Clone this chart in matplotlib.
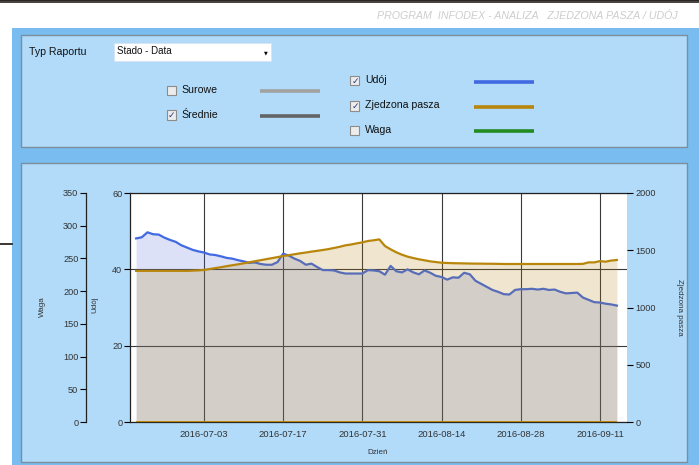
import matplotlib
matplotlib.use('Agg')
import matplotlib.pyplot as plt
from matplotlib.patches import Rectangle
import numpy as np
import pandas as pd

W, H = 699, 465

# daily values from 2016-06-21
start_day = '2016-06-21'
udoj = [48.1, 48.4, 49.7, 49.2, 49.1, 48.3, 47.7, 47.2, 46.3, 45.7,
        45.1, 44.7, 44.4, 43.9, 43.75, 43.4, 43.0, 42.8, 42.4, 42.1,
        41.7, 41.8, 41.4, 41.2, 41.2, 41.9, 44.1, 43.6, 42.8, 42.2,
        41.2, 41.5, 40.6, 39.8, 39.8, 39.7, 39.2, 38.9, 38.9, 38.9,
        38.9, 39.8, 39.7, 39.5, 38.6, 40.9, 39.5, 39.2, 40.0, 39.2,
        38.7, 39.7, 39.1, 38.3, 38.0, 37.3, 37.9, 37.8, 39.1, 38.7,
        37.0, 36.2, 35.4, 34.6, 34.1, 33.5, 33.4, 34.6, 34.8, 34.8,
        34.9, 34.7, 34.9, 34.6, 34.7, 34.1, 33.7, 33.8, 33.9, 32.6,
        32.0, 31.4, 31.3, 31.0, 30.8, 30.5]
pasza = [1320, 1320, 1320, 1320, 1320, 1320, 1320, 1320, 1320, 1320, 1322, 1324,
         1328, 1336, 1344, 1352, 1361, 1369, 1377, 1386, 1395, 1404, 1413, 1422,
         1431, 1440, 1450, 1457, 1465, 1473, 1480, 1488, 1495, 1502, 1510, 1520,
         1530, 1543, 1550, 1560, 1569, 1581, 1587, 1595,
         1537, 1508, 1482, 1461, 1444, 1432, 1421, 1412, 1403, 1397, 1391, 1389,
         1387, 1386, 1385, 1384, 1383, 1383, 1382, 1382, 1381, 1380, 1380, 1380,
         1380, 1380, 1380, 1380, 1380, 1380, 1380, 1380, 1380, 1380, 1380, 1381,
         1394, 1394, 1405, 1400, 1410, 1415]

date_ticks = ['2016-07-03', '2016-07-17', '2016-07-31', '2016-08-14', '2016-08-28', '2016-09-11']
udoj_ticks = [0, 20, 40, 60]
pasza_ticks = [0, 500, 1000, 1500, 2000]
waga_ticks = [0, 50, 100, 150, 200, 250, 300, 350]

UI_FONT = ['Liberation Sans', 'DejaVu Sans']
BLUE = '#4169e1'
GOLD = '#b8860b'


def fx(x):
    return x / W


def fy(y):
    return 1 - y / H


def box(fig, x0, y0, x1, y1, fc, ec='none', lw=0, z=-5):
    r = Rectangle((fx(x0), fy(y1)), (x1 - x0) / W, (y1 - y0) / H, transform=fig.transFigure,
                  facecolor=fc, edgecolor=ec, linewidth=lw, zorder=z)
    fig.patches.append(r)


def label(fig, x, y, s, size=7.6, **kw):
    fig.text(fx(x), fy(y), s, fontsize=size, family=UI_FONT, va='center', color='#111111', **kw)


def checkbox(fig, x, y, checked):
    box(fig, x - 4.5, y - 4.5, x + 4.5, y + 4.5, '#ececec', '#8c8c8c', 0.8, z=1)
    if checked:
        fig.text(fx(x), fy(y), '\u2713', fontsize=6.5, color='#2c3e78', ha='center', va='center',
                 family='DejaVu Sans', zorder=2)


def legend_line(fig, x0, x1, y, color):
    fig.add_artist(plt.Line2D([fx(x0), fx(x1)], [fy(y), fy(y)], transform=fig.transFigure,
                              color=color, lw=2.6, solid_capstyle='butt'))


fig = plt.figure(figsize=(W / 100, H / 100), dpi=100, facecolor='white')

# window background
box(fig, 0, 0, W, 3, '#4a4440')
box(fig, 0, 0, W, 1.5, '#2a2522')
box(fig, 12, 28, W, H, '#79bdf0')
box(fig, 21, 35, 687, 147, '#b1dbf9', '#7d8d9c', 1)
box(fig, 21, 163, 687, 462, '#b1dbf9', '#7d8d9c', 1)
fig.add_artist(plt.Line2D([fx(0), fx(12)], [fy(244), fy(244)], transform=fig.transFigure,
                          color='#2a2522', lw=1.3))

fig.text(fx(678), fy(16), 'PROGRAM  INFODEX - ANALIZA   ZJEDZONA PASZA / UDÓJ', fontsize=7.7,
         family=UI_FONT, style='italic', color='#cdcdcd', ha='right', va='center')

# report type selector
label(fig, 29, 52, 'Typ Raportu')
box(fig, 114, 43, 271, 61, 'white', '#d6e4ef', 0.6, z=1)
label(fig, 117, 51.5, 'Stado - Data', size=7)
fig.text(fx(266), fy(52.5), '\u25bc', fontsize=3.5, ha='center', va='center', color='black',
         family='DejaVu Sans')

# series toggles
checkbox(fig, 171.5, 90.5, False)
label(fig, 181, 90, 'Surowe')
legend_line(fig, 260, 320, 91, '#a2a2a2')
checkbox(fig, 171.5, 115, True)
label(fig, 181, 114.5, 'Średnie')
legend_line(fig, 260, 320, 116, '#646464')

checkbox(fig, 355, 81, True)
label(fig, 365, 80, 'Udój')
legend_line(fig, 474, 534, 82, BLUE)
checkbox(fig, 355, 106, True)
label(fig, 365, 105, 'Zjedzona pasza')
legend_line(fig, 474, 534, 107, GOLD)
checkbox(fig, 355, 130.5, False)
label(fig, 365, 130, 'Waga')
legend_line(fig, 474, 534, 131, '#228b22')

# chart
left, right, top, bottom = 130, 627, 193, 422
rect = [fx(left), fy(bottom), (right - left) / W, (bottom - top) / H]

dates = pd.date_range(start_day, periods=len(udoj), freq='D')
ax = fig.add_axes(rect)
ax.set_facecolor('white')
ax.fill_between(dates, 0, udoj, color=(80 / 255, 105 / 255, 215 / 255), alpha=0.2, lw=0)
ax.plot(dates, udoj, color=BLUE, lw=1.6)
ax.set_ylim(0, 60)
ax.set_xlim(pd.Timestamp('2016-06-19 22:00'), pd.Timestamp('2016-09-15 19:00'))
ax.set_yticks(udoj_ticks)
ax.set_xticks(pd.to_datetime(date_ticks))
ax.set_xticklabels(date_ticks)
ax.grid(True, color='#3a3a3a', lw=0.8)
ax.set_axisbelow(True)
ax.tick_params(axis='x', length=0, pad=6, labelsize=6.8, labelcolor='#333333')
ax.tick_params(axis='y', length=4.5, width=0.8, pad=1, labelsize=6.6, labelcolor='#333333')
ax.spines['right'].set_visible(False)
for s in ['left', 'top', 'bottom']:
    ax.spines[s].set_color('#222222')
    ax.spines[s].set_linewidth(0.9)
for t in ax.get_xticklabels() + ax.get_yticklabels():
    t.set_family(UI_FONT)

ax2 = ax.twinx()
ax2.fill_between(dates, 0, pasza, color=(180 / 255, 130 / 255, 20 / 255), alpha=0.2, lw=0)
ax2.plot(dates, pasza, color=GOLD, lw=1.6)
ax2.hlines(0, dates[0], dates[-1], color=GOLD, lw=1.4)
ax2.set_ylim(0, 2000)
ax2.set_yticks(pasza_ticks)
ax2.tick_params(axis='y', length=4.5, width=0.8, pad=1.5, labelsize=6.6, labelcolor='#333333')
for s in ax2.spines.values():
    s.set_visible(False)
for t in ax2.get_yticklabels():
    t.set_family(UI_FONT)

# weight axis, empty
axw = fig.add_axes([fx(86), fy(bottom), 0.0001, (bottom - top) / H])
axw.patch.set_visible(False)
axw.set_ylim(0, 350)
axw.set_yticks(waga_ticks)
axw.set_xticks([])
for s in ['right', 'top', 'bottom']:
    axw.spines[s].set_visible(False)
axw.spines['left'].set_color('#222222')
axw.spines['left'].set_linewidth(0.9)
axw.tick_params(axis='y', length=4.5, width=0.8, pad=1, labelsize=6.6, labelcolor='#333333')
for t in axw.get_yticklabels():
    t.set_family(UI_FONT)

fig.text(fx(42), fy(307), 'Waga', fontsize=5.8, family=UI_FONT, rotation=90, ha='center', va='center',
         color='#333333')
fig.text(fx(95), fy(305), 'Udój', fontsize=5.8, family=UI_FONT, rotation=90, ha='center', va='center',
         color='#333333')
fig.text(fx(378), fy(452), 'Dzień', fontsize=5.8, family=UI_FONT, ha='center', va='center',
         color='#333333')
fig.text(fx(679), fy(307), 'Zjedzona pasza', fontsize=5.8, family=UI_FONT, rotation=270, ha='center',
         va='center', color='#333333')

fig.savefig('out.png', dpi=100, facecolor='white')
